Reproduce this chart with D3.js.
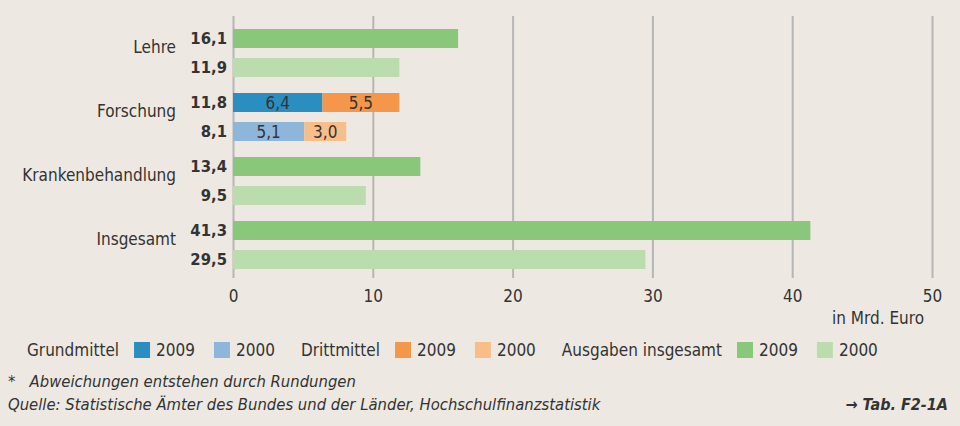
<!DOCTYPE html>
<html><head><meta charset="utf-8">
<script src="https://cdn.jsdelivr.net/npm/d3@7"></script>
<style>
html,body{margin:0;padding:0;background:#EDE9E2;}
svg{display:block;font-family:"DejaVu Sans";font-stretch:condensed;}
</style></head>
<body><svg id="c" width="960" height="426"></svg>
<script>
const categories = ["Lehre","Forschung","Krankenbehandlung","Insgesamt"];
const years = ["2009","2000"];
const total2009 = [16.1, 11.8, 13.4, 41.3];
const total2000 = [11.9, 8.1, 9.5, 29.5];
// Forschung split: Grundmittel / Drittmittel
const grund = {"2009": 6.4, "2000": 5.1};
const dritt = {"2009": 5.5, "2000": 3.0};
const xTicks = [0,10,20,30,40,50];
const colors = {
  total: {"2009":"#89C77A","2000":"#BBDDAD"},
  grund: {"2009":"#2A8EC0","2000":"#8DB6DA"},
  dritt: {"2009":"#F5974A","2000":"#F8BE8A"}
};
const legendItems = [
  {label:"Grundmittel", key:"grund"},
  {label:"Drittmittel", key:"dritt"},
  {label:"Ausgaben insgesamt", key:"total"}
];

const fmt = d3.formatLocale({decimal:",",thousands:".",grouping:[3],currency:["","€"]}).format(".1f");
const svg = d3.select("#c");
const txt = "#333333";

const x = d3.scaleLinear().domain([0,50]).range([233,932]);
const y = d3.scaleBand().domain(categories).range([21,277]).paddingInner(0.25).paddingOuter(0.125);
const yi = d3.scaleBand().domain(years).range([0,y.bandwidth()]).paddingInner(0.345).paddingOuter(0);

// grid
const grid = svg.append("g").attr("transform","translate(0,16)")
  .call(d3.axisBottom(x).tickValues(xTicks).tickSize(262).tickFormat(""));
grid.select(".domain").remove();
grid.selectAll("line").attr("stroke","#B6B6B6").attr("stroke-width",2);

// tick labels
const ax = svg.append("g").attr("transform","translate(0,289)")
  .call(d3.axisBottom(x).tickValues(xTicks).tickSize(0).tickPadding(0).tickFormat(d3.format("d")));
ax.select(".domain").remove();
ax.selectAll("text").attr("font-size",17).attr("fill",txt).attr("font-family","DejaVu Sans").attr("dy","0.75em");

svg.append("text").attr("x",924).attr("y",324).attr("text-anchor","end").attr("font-size",17).attr("fill",txt).text("in Mrd. Euro");

// bars
const rows = [];
categories.forEach((c,i)=>{
  years.forEach(yr=>{
    const tot = yr==="2009"?total2009[i]:total2000[i];
    rows.push({c, yr, tot});
  });
});
const g = svg.append("g");
rows.forEach(r=>{
  const yy = y(r.c)+yi(r.yr), h = yi.bandwidth();
  if(r.c==="Forschung"){
    const a = grund[r.yr], b = dritt[r.yr];
    g.append("rect").attr("x",x(0)).attr("y",yy).attr("width",x(a)-x(0)).attr("height",h).attr("fill",colors.grund[r.yr]);
    g.append("rect").attr("x",x(a)).attr("y",yy).attr("width",x(a+b)-x(a)).attr("height",h).attr("fill",colors.dritt[r.yr]);
    g.append("text").attr("x",(x(0)+x(a))/2).attr("y",yy+h/2).attr("dy","0.36em").attr("text-anchor","middle").attr("font-size",17).attr("fill",txt).text(fmt(a));
    g.append("text").attr("x",(x(a)+x(a+b))/2).attr("y",yy+h/2).attr("dy","0.36em").attr("text-anchor","middle").attr("font-size",17).attr("fill",txt).text(fmt(b));
  } else {
    g.append("rect").attr("x",x(0)).attr("y",yy).attr("width",x(r.tot)-x(0)).attr("height",h).attr("fill",colors.total[r.yr]);
  }
  g.append("text").attr("x",227).attr("y",yy+h/2).attr("dy","0.36em").attr("text-anchor","end")
    .attr("font-size",16.5).attr("font-weight","bold").attr("fill",txt).text(fmt(r.tot));
});
// category labels
categories.forEach(c=>{
  svg.append("text").attr("x",176).attr("y",y(c)+y.bandwidth()/2-6).attr("dy","0.36em").attr("text-anchor","end")
    .attr("font-size",17).attr("fill",txt).text(c);
});

// legend
const lg = svg.append("g").attr("transform","translate(27,350)");
let lx = 0;
legendItems.forEach((it,k)=>{
  const t = lg.append("text").attr("x",lx).attr("y",0).attr("dy","0.36em").attr("font-size",17).attr("fill",txt).text(it.label);
  lx += t.node().getComputedTextLength() + 15;
  years.forEach(yr=>{
    lg.append("rect").attr("x",lx).attr("y",-8).attr("width",16).attr("height",16).attr("fill",colors[it.key][yr]);
    lx += 22;
    const t2 = lg.append("text").attr("x",lx).attr("y",0).attr("dy","0.36em").attr("font-size",17).attr("fill",txt).text(yr);
    lx += t2.node().getComputedTextLength() + 19;
  });
  lx += 7;
});

// footnotes
svg.append("text").attr("x",8).attr("y",387).attr("font-size",16.5).attr("font-style","italic").attr("fill",txt)
  .attr("xml:space","preserve").text("*   Abweichungen entstehen durch Rundungen");
svg.append("text").attr("x",8).attr("y",410).attr("font-size",16.5).attr("font-style","italic").attr("fill",txt)
  .text("Quelle: Statistische Ämter des Bundes und der Länder, Hochschulfinanzstatistik");
svg.append("text").attr("x",948).attr("y",410).attr("text-anchor","end").attr("font-size",16).attr("font-style","italic").attr("font-weight","bold").attr("fill",txt)
  .text("→ Tab. F2-1A");
</script></body></html>
